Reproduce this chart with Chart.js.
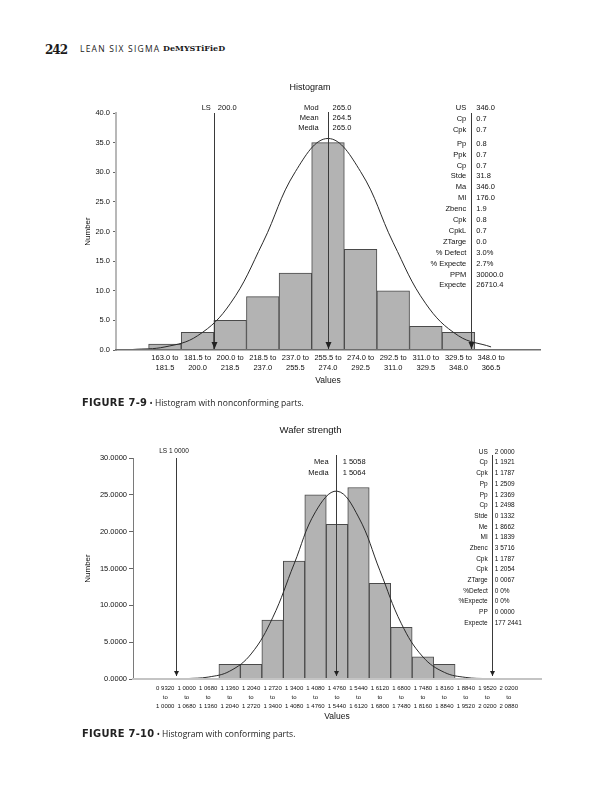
<!DOCTYPE html>
<html>
<head>
<meta charset="utf-8">
<script src="https://cdn.jsdelivr.net/npm/chart.js@4.4.1/dist/chart.umd.min.js"></script>
<style>
  body { margin: 0; width: 612px; height: 800px; background: #fff; position: relative; overflow: hidden;
         font-family: "Liberation Sans", Arial, sans-serif; color: #111; }
  .box { position: absolute; left: 0; width: 612px; }
  .hd { position: absolute; top: 43px; white-space: nowrap; color: #1a1a1a; line-height: 14px; }
  .pg { left: 45px; font: bold 12px "DejaVu Serif", serif; letter-spacing: -1px; }
  .run { left: 80px; font: 8.5px "Open Sans", sans-serif; letter-spacing: 1.2px; }
  .dm { left: 163px; font: bold 8px "DejaVu Serif", serif; letter-spacing: 0; }
  .cap { position: absolute; left: 82px; white-space: nowrap; font: 8.5px "Open Sans", sans-serif; color: #222; }
  .cap b { font: bold 11px "Liberation Sans Narrow", "DejaVu Sans Condensed", sans-serif; letter-spacing: 0.3px; }
</style>
</head>
<body>
<div class="hd pg">242</div>
<div class="hd run">LEAN SIX SIGMA</div>
<div class="hd dm">DeMYSTiFieD</div>
<div class="box" style="top:70px;height:330px"><canvas id="c1"></canvas></div>
<div class="cap" style="top:396px"><b>FIGURE 7-9</b> • Histogram with nonconforming parts.</div>
<div class="box" style="top:415px;height:315px"><canvas id="c2"></canvas></div>
<div class="cap" style="top:727px"><b>FIGURE 7-10</b> • Histogram with conforming parts.</div>
<script>
// ---- figure 7-9 data ----
const binFrom1 = ['163.0', '181.5', '200.0', '218.5', '237.0', '255.5', '274.0', '292.5', '311.0', '329.5', '348.0'];
const binTo1 = ['181.5', '200.0', '218.5', '237.0', '255.5', '274.0', '292.5', '311.0', '329.5', '348.0', '366.5'];
const counts1 = [1, 3, 5, 9, 13, 35, 17, 10, 4, 3, 0];
// fitted curve read at each slot centre (slot 0 is the empty slot left of the first bin)
const curve1 = [0.08, 0.52, 2.4, 7.8, 18.1, 30.1, 35.7, 30.1, 18.1, 7.8, 2.4, 0.52];
const binStart1 = 163.0, binWidth1 = 18.5;
const lsl1 = 200.0, mean1 = 264.5, usl1 = 346.0;
const centerNames1 = ['Mod', 'Mean', 'Media'];
const centerValues1 = ['265.0', '264.5', '265.0'];
const statNames1 = ['US', 'Cp', 'Cpk', 'Pp', 'Ppk', 'Cp', 'Stde', 'Ma', 'MI', 'Zbenc', 'Cpk', 'CpkL',
  'ZTarge', '% Defect', '% Expecte', 'PPM', 'Expecte'];
const statValues1 = ['346.0', '0.7', '0.7', '0.8', '0.7', '0.7', '31.8', '346.0', '176.0', '1.9', '0.8', '0.7',
  '0.0', '3.0%', '2.7%', '30000.0', '26710.4'];

// ---- figure 7-10 data ----
const binFrom2 = ['0 9320', '1 0000', '1 0680', '1 1360', '1 2040', '1 2720', '1 3400', '1 4080', '1 4760',
  '1 5440', '1 6120', '1 6800', '1 7480', '1 8160', '1 8840', '1 9520', '2 0200'];
const binTo2 = ['1 0000', '1 0680', '1 1360', '1 2040', '1 2720', '1 3400', '1 4080', '1 4760', '1 5440',
  '1 6120', '1 6800', '1 7480', '1 8160', '1 8840', '1 9520', '2 0200', '2 0880'];
const counts2 = [0, 0, 0, 2, 2, 8, 16, 25, 21, 26, 13, 7, 3, 2, 0, 0, 0];
const curve2 = [null, null, 0.05, 0.26, 1.06, 3.4, 8.3, 15.6, 22.7, 25.5, 22.0, 14.7, 7.5, 3.0, 0.9, 0.21, 0.04];
const binStart2 = 0.932, binWidth2 = 0.068;
const lsl2 = 1.0, mean2 = 1.5058, usl2 = 2.0;
const centerNames2 = ['Mea', 'Media'];
const centerValues2 = ['1 5058', '1 5064'];
const statNames2 = ['US', 'Cp', 'Cpk', 'Pp', 'Pp', 'Cp', 'Stde', 'Me', 'MI', 'Zbenc', 'Cpk', 'Cpk',
  'ZTarge', '%Defect', '%Expecte', 'PP', 'Expecte'];
const statValues2 = ['2 0000', '1 1921', '1 1787', '1 2509', '1 2369', '1 2498', '0 1332', '1 8662', '1 1839',
  '3 5716', '1 1787', '1 2054', '0 0067', '0 0%', '0 0%', '0 0000', '177 2441'];

const FONT = '"Liberation Sans", Arial, sans-serif';

// value on the measurement axis -> fractional category slot (slot 1 = first bin)
function slotOf(v, start, width) {
  return 0.5 + (v - start) / width;
}

// spec lines, arrows and the stat columns
const marks = {
  id: 'marks',
  afterDatasetsDraw(chart, args, o) {
    const { ctx, chartArea: a, scales: { x } } = chart;
    ctx.save();
    ctx.strokeStyle = '#3a3a3a';
    ctx.fillStyle = '#222';
    ctx.lineWidth = 1;
    o.lines.forEach(m => {
      const px = Math.round(x.getPixelForValue(m.slot)) + 0.5;
      const tip = a.bottom - o.tip;
      ctx.beginPath();
      ctx.moveTo(px, a.top + m.top);
      ctx.lineTo(px, tip);
      ctx.stroke();
      ctx.beginPath();
      ctx.moveTo(px - o.aw, tip - o.ah);
      ctx.lineTo(px + o.aw, tip - o.ah);
      ctx.lineTo(px, tip);
      ctx.closePath();
      ctx.fill();
    });
    ctx.fillStyle = '#111';
    ctx.textBaseline = 'middle';
    o.texts.forEach(t => {
      const px = x.getPixelForValue(t.slot);
      ctx.font = t.font;
      t.names.forEach((n, i) => {
        const yy = a.top + t.y0 + i * t.dy + (t.gapAfter && i >= t.gapAfter ? t.gap : 0);
        if (t.center) {
          ctx.textAlign = 'center';
          ctx.fillText(n + ' ' + t.values[i], px + t.dx, yy);
          return;
        }
        ctx.textAlign = 'right';
        ctx.fillText(n, px - t.left, yy);
        ctx.textAlign = 'left';
        ctx.fillText(t.values[i], px + t.right, yy);
      });
    });
    ctx.restore();
  }
};

function histogram(id, cfg) {
  const labels = [''].concat(cfg.from.map((f, i) => cfg.mid ? [f, 'to', cfg.to[i]] : [f + ' to', cfg.to[i]])).concat(['']);
  const bars = [null].concat(cfg.counts.map(v => v || null)).concat([null]);
  return new Chart(document.getElementById(id), {
    type: 'bar',
    data: {
      labels: labels,
      datasets: [
        {
          type: 'line', data: cfg.curve, borderColor: '#2a2a2a', borderWidth: 1,
          pointRadius: 0, tension: 0.4, order: 0
        },
        {
          type: 'bar', data: bars, backgroundColor: '#b3b3b3', borderColor: '#4a4a4a', borderWidth: 1,
          barPercentage: 1, categoryPercentage: 1, order: 1
        }
      ]
    },
    options: {
      responsive: true,
      maintainAspectRatio: false,
      animation: false,
      events: [],
      layout: { padding: cfg.padding },
      plugins: {
        legend: { display: false },
        tooltip: { enabled: false },
        title: {
          display: true, text: cfg.title, color: '#111',
          font: { family: FONT, size: cfg.titleSize, weight: 'normal', lineHeight: 1.2 },
          padding: cfg.titlePad
        },
        marks: cfg.marks
      },
      scales: {
        x: {
          offset: true,
          grid: { display: false, drawTicks: false, tickLength: 0 },
          border: { color: cfg.xBorder, width: cfg.xBorderWidth, z: 1 },
          ticks: {
            autoSkip: false, maxRotation: 0, minRotation: 0, color: '#111', padding: cfg.xPad,
            font: { family: FONT, size: cfg.xSize, lineHeight: cfg.xLine }
          },
          title: {
            display: true, text: 'Values', color: '#111', padding: 0,
            font: { family: FONT, size: 8.5, lineHeight: 1.2 }
          },
          afterFit: s => { s.height = cfg.xHeight; }
        },
        y: {
          min: 0, max: cfg.yMax,
          ticks: {
            stepSize: 5, color: '#111', padding: cfg.yPad,
            font: { family: FONT, size: 7.5 },
            callback: v => v.toFixed(cfg.decimals)
          },
          grid: { drawOnChartArea: false, tickLength: cfg.tickLen, color: '#666' },
          border: { color: cfg.yBorder, width: cfg.yBorderWidth },
          title: {
            display: true, text: 'Number', color: '#111', padding: { top: 3, bottom: 0 },
            font: { family: FONT, size: 8, lineHeight: 1.2 }
          },
          afterFit: s => { s.width = cfg.yWidth; }
        }
      }
    },
    plugins: [marks]
  });
}

const s1 = (v) => slotOf(v, binStart1, binWidth1);
const s2 = (v) => slotOf(v, binStart2, binWidth2);

histogram('c1', {
  title: 'Histogram', titleSize: 9, titlePad: { top: 12.6, bottom: 19.6 },
  padding: { left: 80, right: 72, top: 0, bottom: 14 },
  from: binFrom1, to: binTo1, counts: counts1, curve: curve1.concat([null]),
  yMax: 40, decimals: 1, yWidth: 36, yPad: 3, tickLen: 3,
  xHeight: 36, xPad: 3, xSize: 7.5, xLine: 1.3,
  xBorder: '#6e6e6e', xBorderWidth: 1.5, yBorder: '#b8b8b8', yBorderWidth: 2,
  marks: {
    tip: 1, aw: 3, ah: 7,
    lines: [{ slot: s1(lsl1), top: 0 }, { slot: s1(mean1), top: -1 }, { slot: s1(usl1), top: 0 }],
    texts: [
      { slot: s1(lsl1), names: ['LS'], values: ['200.0'], y0: -5, dy: 0, left: 3, right: 4, font: '7.5px ' + FONT },
      { slot: s1(mean1), names: centerNames1, values: centerValues1, y0: -5, dy: 10.2, left: 9, right: 5, font: '7.5px ' + FONT },
      { slot: s1(usl1), names: statNames1, values: statValues1, y0: -5, dy: 10.9, gapAfter: 3, gap: 3,
        left: 5, right: 5, font: '7.5px ' + FONT }
    ]
  }
});

histogram('c2', {
  title: 'Wafer strength', titleSize: 9.5, titlePad: { top: 9.3, bottom: 22.3 },
  padding: { left: 80, right: 71, top: 0, bottom: 8 },
  from: binFrom2, to: binTo2, counts: counts2, curve: curve2.concat([null, null]), mid: true,
  yMax: 30, decimals: 4, yWidth: 53, yPad: 2, tickLen: 4,
  xHeight: 43, xPad: 5, xSize: 6, xLine: 1.5,
  xBorder: '#c4c4c4', xBorderWidth: 2, yBorder: '#7a7a7a', yBorderWidth: 1,
  marks: {
    tip: 3, aw: 2.5, ah: 5,
    lines: [{ slot: s2(lsl2), top: 0 }, { slot: s2(mean2), top: -3 }, { slot: s2(usl2), top: -3 }],
    texts: [
      { slot: s2(lsl2), names: ['LS'], values: ['1 0000'], y0: -7, dy: 0, center: true, dx: -2, font: '6.5px ' + FONT },
      { slot: s2(mean2), names: centerNames2, values: centerValues2, y0: 4, dy: 11, left: 7, right: 7, font: '7.5px ' + FONT },
      { slot: s2(usl2), names: statNames2, values: statValues2, y0: -6, dy: 10.69, left: 4, right: 3, font: '6.5px ' + FONT }
    ]
  }
});
</script>
</body>
</html>
